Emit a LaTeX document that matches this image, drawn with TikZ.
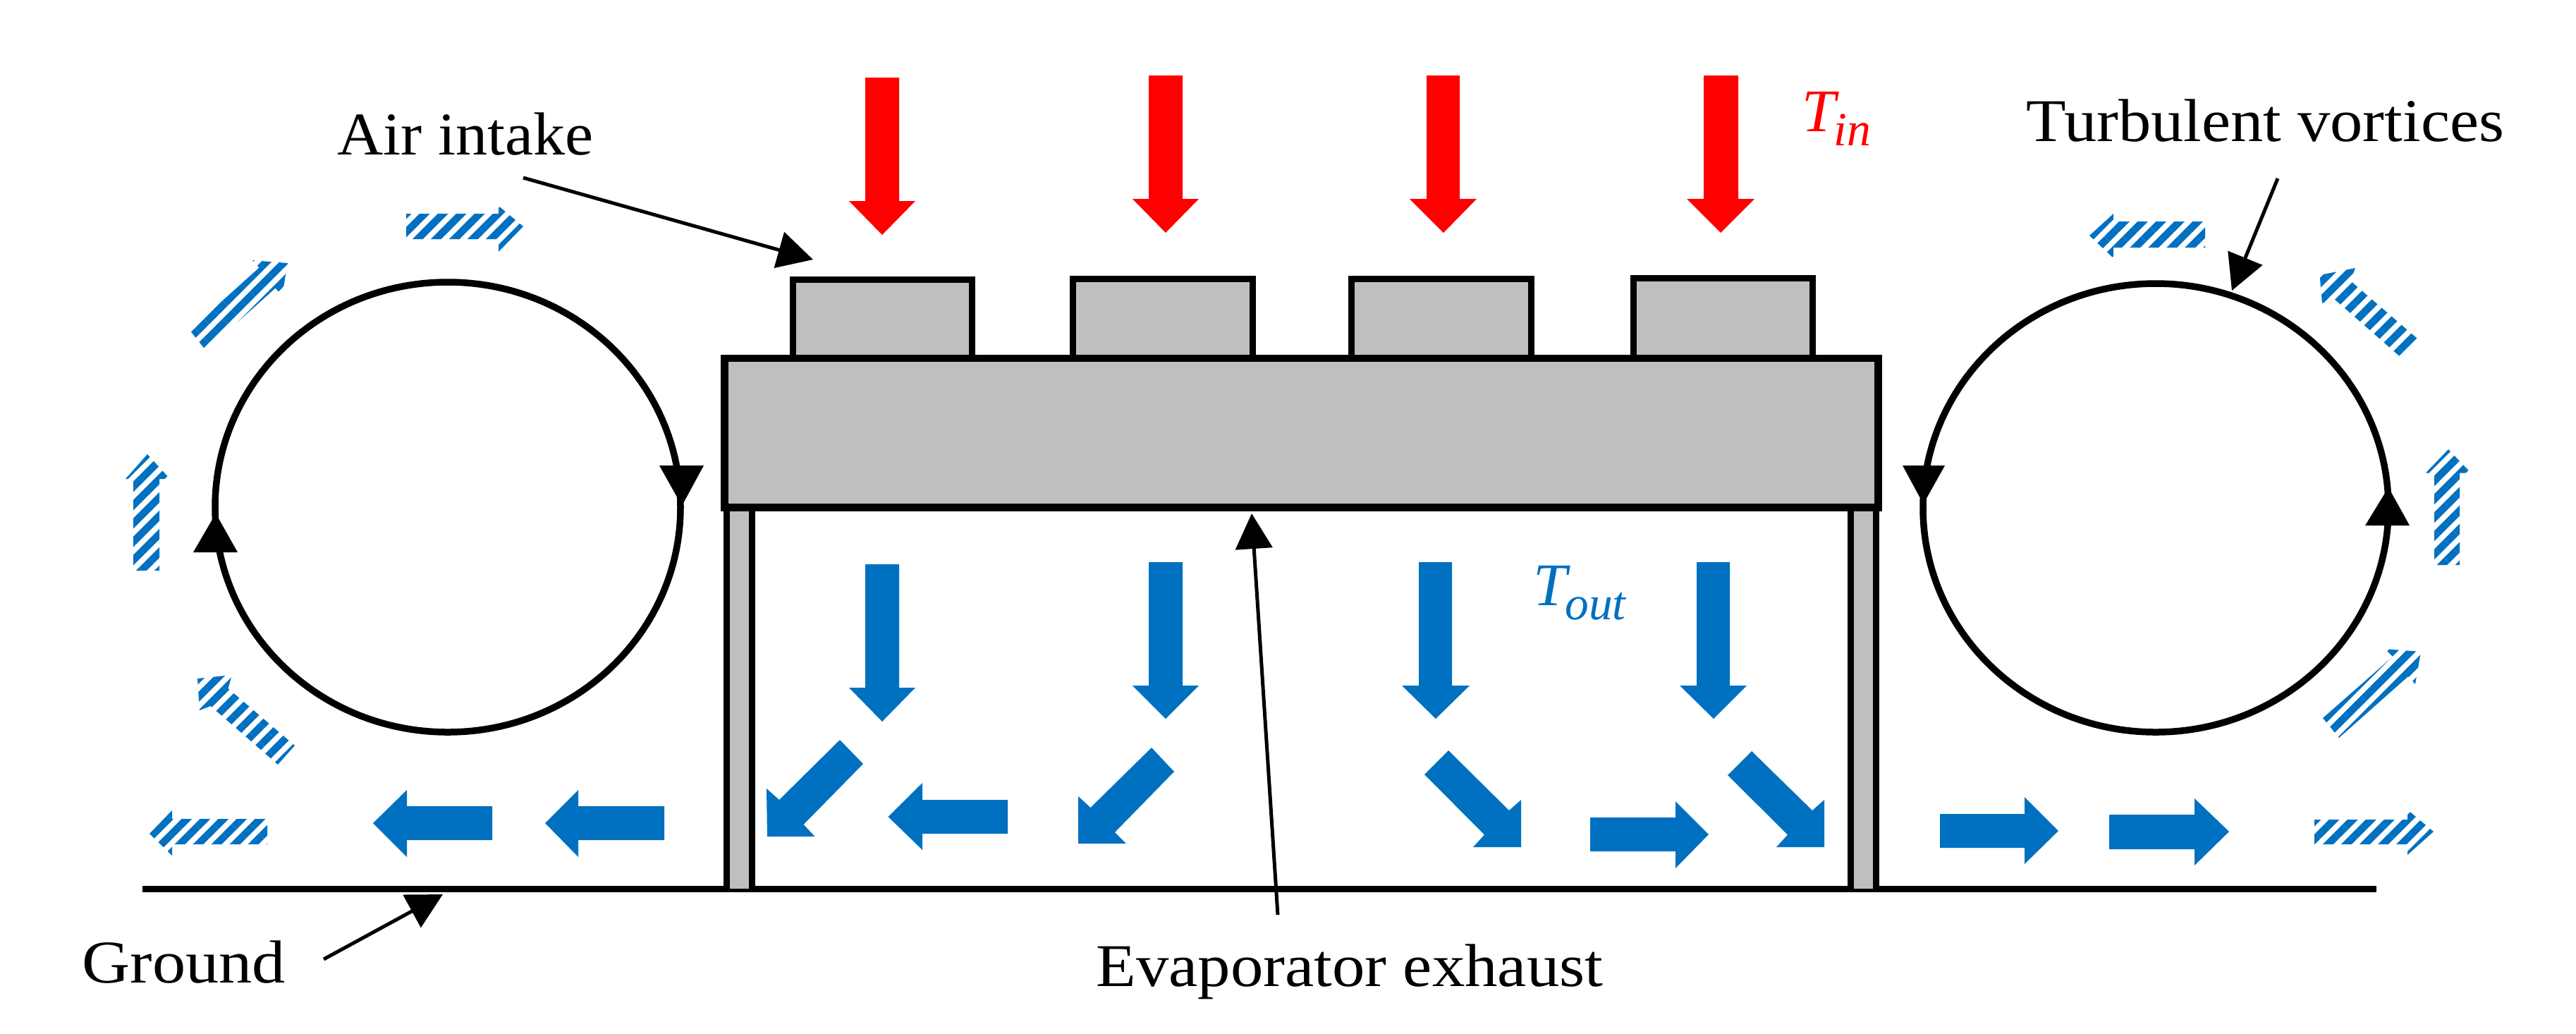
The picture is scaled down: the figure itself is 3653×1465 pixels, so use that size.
\documentclass[tikz,border=0pt]{standalone}
\usepackage{fontspec}
\usepackage{graphicx}
\setmainfont{Liberation Serif}
\usetikzlibrary{arrows.meta,patterns.meta}
\definecolor{flowblue}{HTML}{0070C0}
\definecolor{unitgray}{HTML}{BFBFBF}
\newcommand{\fitlabel}[2]{\resizebox{#1}{\height}{#2}}
\newcommand{\tempsym}[1]{\fontsize{24.4pt}{26pt}\selectfont\itshape T\kern-.03cm\raisebox{-.2cm}{\fontsize{19.2pt}{20pt}\selectfont #1}}
\tikzset{
  unitbox/.style={draw=black,fill=unitgray,line width=.09cm,line join=miter},
  vortex/.style={draw=black,line width=.095cm},
  ground/.style={draw=black,line width=.095cm},
  hotflow/.style={fill=red},
  coldflow/.style={fill=flowblue},
  weakflow/.style={pattern={Lines[angle=45,distance=.184cm,line width=.105cm,xshift=.13cm]},pattern color=flowblue},
  vhead/.style={fill=black},
  leader/.style={draw=black,line width=.05cm,-{Triangle[length=.5cm,width=.52cm]}},
  lbl/.style={inner sep=0pt,anchor=base west,font=\fontsize{24.47pt}{27pt}\selectfont},
  tlbl/.style={inner sep=0pt,anchor=base west}
}
\begin{document}
\begin{tikzpicture}[x=.01cm,y=-.01cm]
\useasboundingbox (0,0) rectangle (3653,1465);
% ground and legs
\draw[ground] (202,1260.5) -- (3370,1260.5);
\draw[unitbox] (1030,1260) -- (1030,718) -- (1066,718) -- (1066,1260);
\draw[unitbox] (2624,1260) -- (2624,718) -- (2660,718) -- (2660,1260);
% fans and body
\draw[unitbox] (1124,508) rectangle (1378,396);
\draw[unitbox] (1521,508) rectangle (1776,395.5);
\draw[unitbox] (1916,508) rectangle (2171,395.5);
\draw[unitbox] (2316,508) rectangle (2570,394);
\draw[unitbox,line width=.105cm] (1027.5,508) rectangle (2663.5,719.5);
% red arrows
\fill[hotflow] (1227,110)--(1275,110)--(1275,285)--(1298,285)--(1251,333)--(1204,285)--(1227,285)--cycle;
\fill[hotflow] (1629,107)--(1677,107)--(1677,282)--(1700,282)--(1653,330)--(1606,282)--(1629,282)--cycle;
\fill[hotflow] (2023,107)--(2070,107)--(2070,282)--(2094,282)--(2047,330)--(1999,282)--(2023,282)--cycle;
\fill[hotflow] (2416,107)--(2465,107)--(2465,282)--(2488,282)--(2440,330)--(2392,282)--(2416,282)--cycle;
% blue down arrows
\fill[coldflow] (1227,800)--(1275,800)--(1275,975)--(1298,975)--(1251,1023)--(1204,975)--(1227,975)--cycle;
\fill[coldflow] (1629,797)--(1677,797)--(1677,972)--(1700,972)--(1653,1019)--(1606,972)--(1629,972)--cycle;
\fill[coldflow] (2012,797)--(2059,797)--(2059,972)--(2084,972)--(2036,1019)--(1988,972)--(2012,972)--cycle;
\fill[coldflow] (2406,797)--(2453,797)--(2453,972)--(2477,972)--(2430,1019)--(2382,972)--(2406,972)--cycle;
% blue diagonal arrows
\fill[coldflow] (1191,1049)--(1224,1083)--(1139.5,1169)--(1155.6,1186)--(1088,1186)--(1087,1118)--(1105,1134)--cycle;
\fill[coldflow] (1633,1060)--(1665,1094)--(1581,1180)--(1597,1196)--(1529,1196)--(1529,1129)--(1546.5,1145)--cycle;
\fill[coldflow] (2054,1064)--(2020,1098)--(2105,1183.5)--(2089,1201)--(2157,1201)--(2157,1134)--(2140,1149)--cycle;
\fill[coldflow] (2484,1065)--(2450,1099)--(2535,1183.5)--(2519,1201)--(2587,1201)--(2587,1134)--(2570,1149)--cycle;
% blue horizontal arrows
\fill[coldflow] (1429,1134)--(1308,1134)--(1308,1110)--(1259.5,1158)--(1308,1205)--(1308,1182)--(1429,1182)--cycle;
\fill[coldflow] (2255,1159)--(2376,1159)--(2376,1136)--(2423,1183)--(2376,1231)--(2376,1207)--(2255,1207)--cycle;
\fill[coldflow] (2751,1154)--(2871,1154)--(2871,1130)--(2919,1178)--(2871,1225)--(2871,1202)--(2751,1202)--cycle;
\fill[coldflow] (2991,1155)--(3112,1155)--(3112,1132)--(3161,1179)--(3112,1227)--(3112,1204)--(2991,1204)--cycle;
\fill[coldflow] (698,1143)--(577,1143)--(577,1120)--(529,1167)--(577,1215)--(577,1191)--(698,1191)--cycle;
\fill[coldflow] (942,1143)--(820,1143)--(820,1120)--(773,1167)--(820,1215)--(820,1191)--(942,1191)--cycle;
% hatched arrows, left
\fill[weakflow] (576,303)--(707,303)--(707,292)--(742,321)--(707,357)--(707,339)--(576,339)--cycle;
\fill[weakflow] (269,468)--(367.5,379.5)--(358,369)--(408,373)--(400,419)--(390.5,408.5)--(292,497)--cycle;
\fill[weakflow] (189,809)--(189,679)--(178,679)--(209,644)--(241,679)--(226,679)--(226,809)--cycle;
\fill[weakflow] (329,957)--(280,962)--(283,1007)--(298.6,1001)--(394,1084)--(418,1057)--(323.5,976)--cycle;
\fill[weakflow] (379,1161)--(244,1161)--(244,1149)--(212,1182)--(244,1213)--(244,1197)--(379,1197)--cycle;
% hatched arrows, right
\fill[weakflow] (3127,314)--(2997,314)--(2997,303)--(2963,334)--(2997,366)--(2997,351)--(3127,351)--cycle;
\fill[weakflow] (3340,380)--(3289.5,390)--(3293,430)--(3309,423)--(3405,507)--(3428,480)--(3333,398)--cycle;
\fill[weakflow] (3452,801)--(3452,670.5)--(3440,670.5)--(3472,637)--(3504,670.5)--(3488,670.5)--(3488,801)--cycle;
\fill[weakflow] (3294,1018)--(3393,931)--(3382,920)--(3433,924)--(3425,970)--(3415,959)--(3317,1046)--cycle;
\fill[weakflow] (3282,1162)--(3414,1162)--(3414,1148)--(3451,1179)--(3414,1212)--(3414,1197)--(3282,1197)--cycle;
% vortices
\draw[vortex] (635,719) ellipse [x radius=330,y radius=319];
\draw[vortex] (3057,720) ellipse [x radius=330,y radius=318];
\fill[vhead] (935,660)--(998,660)--(967,717)--cycle;
\fill[vhead] (274,783)--(337,783)--(306,728)--cycle;
\fill[vhead] (2698,660)--(2758,660)--(2727.5,714.5)--cycle;
\fill[vhead] (3354,745)--(3417,745)--(3387,691)--cycle;
% labels
\node[lbl] (intake) at (478,219) {\fitlabel{3.63cm}{Air intake}};
\node[lbl] (turb) at (2873,200) {\fitlabel{6.77cm}{Turbulent vortices}};
\node[lbl] (groundlbl) at (116,1393) {\fitlabel{2.88cm}{Ground}};
\node[lbl] (exhaust) at (1554,1398) {\fitlabel{7.18cm}{Evaporator exhaust}};
\node[tlbl,text=red] (tin) at (2555,186) {\tempsym{in}};
\node[tlbl,text=flowblue] (tout) at (2174,858) {\tempsym{out}};
% leaders
\coordinate (intakeS) at (742,252);
\coordinate (intakeE) at (1153,368);
\coordinate (exhS) at (1812,1297);
\coordinate (exhE) at (1775,728);
\coordinate (gndS) at (459,1360);
\coordinate (gndE) at (628,1268);
\coordinate (turbS) at (3230,253);
\coordinate (turbE) at (3165,412);
\draw[leader] (intakeS) -- (intakeE);
\draw[leader] (exhS) -- (exhE);
\draw[leader] (gndS) -- (gndE);
\draw[leader] (turbS) -- (turbE);
\end{tikzpicture}
\end{document}
